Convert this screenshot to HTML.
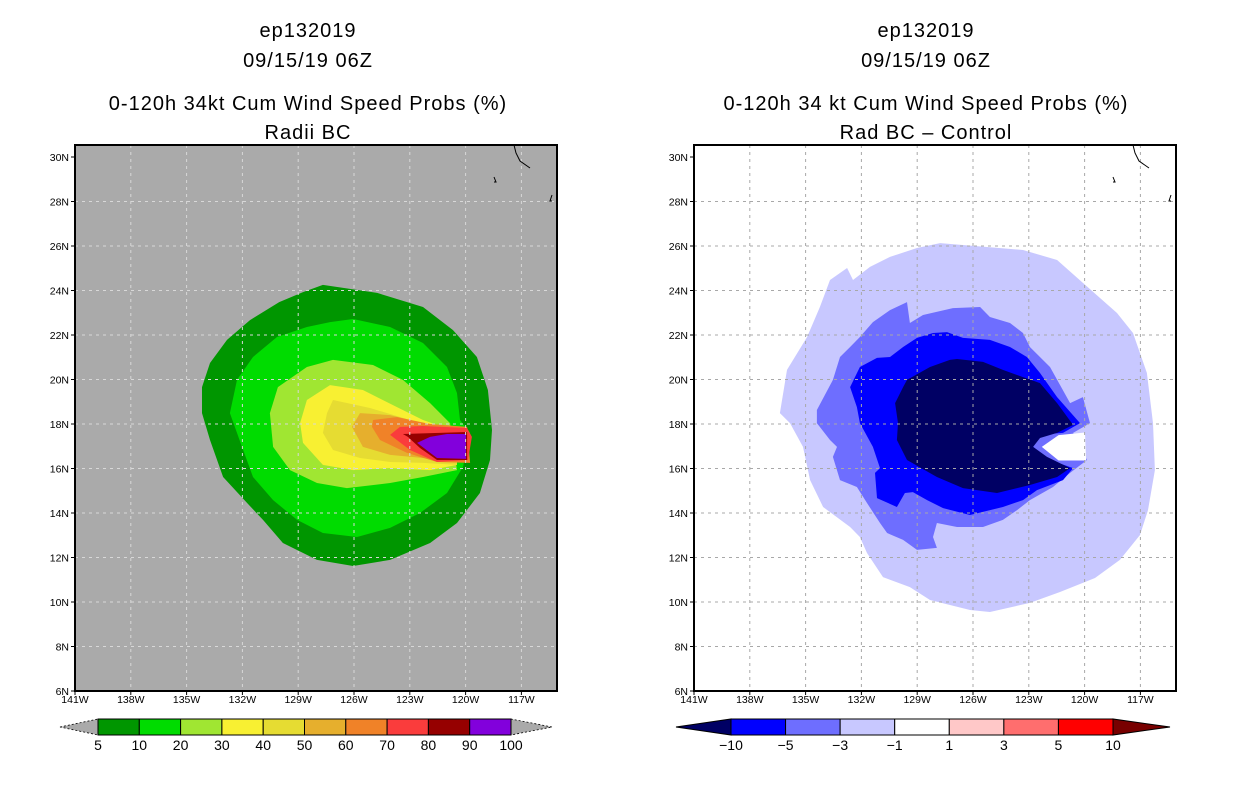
<!DOCTYPE html>
<html><head><meta charset="utf-8"><style>
html,body{margin:0;padding:0;background:#fff;width:1236px;height:800px;overflow:hidden}
svg{display:block}
text{font-family:"Liberation Sans",sans-serif;fill:#000}
.t{font-size:20px;letter-spacing:1px}
.tk{font-size:10.5px}
.cb{font-size:14px}
</style></head><body>
<svg id="chart" width="1236" height="800" viewBox="0 0 1236 800" xmlns="http://www.w3.org/2000/svg">
<g>
<text class="t" x="308" y="37" text-anchor="middle">ep132019</text>
<text class="t" x="308" y="67" text-anchor="middle">09/15/19 06Z</text>
<text class="t" x="308" y="110" text-anchor="middle">0-120h 34kt Cum Wind Speed Probs (%)</text>
<text class="t" x="308" y="139" text-anchor="middle">Radii BC</text>
</g>
<g>
<text class="t" x="926" y="37" text-anchor="middle">ep132019</text>
<text class="t" x="926" y="67" text-anchor="middle">09/15/19 06Z</text>
<text class="t" x="926" y="110" text-anchor="middle">0-120h 34 kt Cum Wind Speed Probs (%)</text>
<text class="t" x="926" y="139" text-anchor="middle">Rad BC – Control</text>
</g>
<g id="left"></g>
<g id="right"></g>
<g id="cbl"></g>
<g id="cbr"></g>
</svg>
<script>
// axis tick data
const latTicks = [6,8,10,12,14,16,18,20,22,24,26,28,30];
const lonTicks = [141,138,135,132,129,126,123,120,117];
// left colorbar data
const leftLevels = ["5","10","20","30","40","50","60","70","80","90","100"];
const leftColors = ["#009600","#00dc00","#a0e632","#f8f032","#e6dc32","#e6af2d","#f08228","#fa3c3c","#960000","#8200dc"];
// right colorbar data
const rightLevels = ["-10","-5","-3","-1","1","3","5","10"];
const rightColors = ["#000064","#0000ff","#6e6eff","#c8c8ff","#ffffff","#ffc8c8","#ff6e6e","#ff0000","#780000"];
// left contours [lonW, latN]
const p05 = [[127.67,24.25],[124.76,23.89],[122.29,23.26],[120.68,22.22],[119.39,21.01],[118.8,19.53],[118.58,17.73],[118.69,16.38],[119.23,14.9],[120.46,13.55],[121.91,12.65],[124.06,11.89],[126.05,11.62],[127.99,11.89],[129.82,12.65],[130.89,13.69],[131.75,14.45],[133.04,15.62],[133.74,17.28],[134.17,18.49],[134.17,19.66],[133.74,20.74],[132.83,21.78],[131.59,22.67],[130.02,23.48],[128.74,23.93]];
const p10 = [[126.05,22.72],[124.06,22.36],[122.29,21.64],[121.0,20.56],[120.46,19.39],[120.3,18.18],[119.76,17.6],[120.14,16.07],[121.0,14.9],[122.45,14.0],[124.06,13.33],[125.84,12.92],[127.67,13.1],[129.06,13.69],[130.35,14.58],[131.43,15.62],[132.02,16.97],[132.67,18.49],[132.29,19.98],[131.43,21.01],[130.14,21.91],[128.53,22.36],[127.29,22.58]];
const p20 = [[127.13,20.88],[124.98,20.65],[123.37,19.98],[121.91,18.94],[120.84,18.04],[120.46,15.93],[122.29,15.62],[124.06,15.35],[126.38,15.12],[127.99,15.35],[129.44,15.93],[130.35,16.97],[130.52,18.49],[130.09,19.66],[128.53,20.56]];
const p30 = [[127.29,19.75],[125.52,19.53],[123.69,18.76],[122.29,18.18],[121.22,17.87],[120.46,17.28],[120.46,16.16],[121.91,15.93],[124.06,16.02],[126.05,15.93],[127.67,16.16],[128.74,17.15],[128.9,18.04],[128.53,19.08]];
const p40 = [[127.13,19.08],[125.14,18.72],[122.99,18.18],[121.54,17.73],[120.46,17.42],[120.46,16.16],[122.29,16.25],[124.06,16.29],[125.68,16.47],[127.13,16.83],[127.67,17.6],[127.45,18.49]];
const p50 = [[125.68,18.49],[124.06,18.4],[122.29,18.04],[120.14,17.82],[120.14,16.29],[122.29,16.47],[124.06,16.61],[125.52,16.97],[126.11,17.87]];
const p60 = [[124.98,18.18],[123.69,18.31],[121.91,18.0],[119.92,17.87],[119.76,16.25],[121.54,16.29],[123.15,16.7],[124.6,17.28],[125.03,17.87]];
const p70 = [[123.53,17.87],[122.29,17.91],[119.92,17.82],[119.66,17.42],[119.87,16.38],[121.54,16.29],[122.99,16.83],[124.06,17.51]];
const p80 = [[123.37,17.55],[119.92,17.64],[119.92,16.38],[121.54,16.38],[122.45,16.92],[123.1,17.42]];
const p90 = [[122.61,17.15],[121.91,17.42],[121.0,17.55],[119.98,17.55],[119.98,16.43],[121.54,16.47]];
// right difference contours [lonW, latN]
const d1 = [[127.77,26.13],[123.31,25.82],[121.48,25.37],[120.09,24.34],[118.26,22.99],[117.4,22.09],[116.65,20.29],[116.32,18.04],[116.22,15.93],[116.59,14.13],[117.02,13.01],[118.1,11.89],[119.44,11.08],[121.32,10.45],[122.94,9.96],[125.09,9.55],[126.16,9.64],[128.31,10.09],[129.39,10.67],[130.84,11.12],[131.7,12.2],[132.08,12.92],[132.61,13.37],[134.06,14.27],[134.76,15.48],[135.14,16.97],[135.84,18.04],[136.38,18.49],[136.0,20.43],[134.92,21.91],[134.23,23.26],[133.69,24.47],[132.77,25.01],[132.45,24.47],[131.54,25.06],[130.46,25.51],[129.01,25.91]];
const dHole = [[122.3,16.97],[121.4,17.5],[119.98,17.62],[119.92,16.36],[121.4,16.36]];
const d3 = [[129.55,23.48],[129.39,22.54],[128.69,22.9],[127.08,23.21],[125.62,23.26],[125.09,22.81],[124.01,22.54],[123.31,22.09],[122.94,21.46],[121.86,20.56],[120.78,18.94],[120.09,19.21],[119.71,18.04],[120.62,17.6],[119.87,16.38],[120.78,15.8],[121.7,15.17],[122.94,14.58],[123.63,14.13],[124.39,13.69],[125.46,13.37],[126.86,13.37],[127.94,13.55],[128.15,12.92],[127.94,12.43],[129.01,12.34],[129.76,12.79],[130.62,13.1],[131.0,13.55],[131.7,14.45],[132.24,15.17],[133.15,15.48],[133.53,16.52],[133.31,16.97],[133.69,17.28],[134.39,18.04],[134.39,18.63],[133.53,19.98],[133.15,21.01],[132.61,21.46],[132.08,21.91],[131.38,22.58],[130.46,23.12]];
const d5 = [[127.4,22.13],[126.54,21.87],[125.09,21.78],[124.01,21.46],[123.1,21.01],[122.4,20.29],[121.48,19.21],[120.25,18.04],[121.16,17.6],[122.56,17.51],[122.77,16.97],[121.86,16.38],[120.62,16.02],[121.16,15.48],[122.56,15.03],[123.31,14.58],[124.39,14.27],[126.16,13.91],[127.61,14.22],[128.47,14.58],[129.23,14.94],[129.66,14.9],[130.09,14.27],[131.16,14.67],[131.27,15.8],[131.0,16.02],[131.38,16.97],[132.08,18.04],[132.24,18.76],[132.61,19.66],[132.08,20.56],[131.16,20.97],[130.46,21.01],[129.76,21.46],[129.01,21.87],[128.15,22.09]];
const d10 = [[126.86,20.92],[125.46,20.79],[124.39,20.43],[123.31,20.11],[122.4,19.84],[121.48,18.94],[120.62,17.96],[121.48,17.6],[122.4,17.37],[122.77,16.97],[122.02,16.52],[120.78,16.02],[121.48,15.62],[122.94,15.26],[124.71,14.9],[126.54,15.12],[127.94,15.62],[129.55,16.38],[130.09,17.28],[130.03,18.04],[130.19,18.94],[129.76,19.66],[129.55,19.98],[128.31,20.56],[127.24,20.88]];
const leftPolys = [p05,p10,p20,p30,p40,p50,p60,p70,p80,p90];
const rightPolys = [d1,d3,dHole,d5,d10];
const rightPolyColors = ["#c8c8ff","#6e6eff","#ffffff","#0000ff","#000064"];
const rightPolyNames = ["contour-minus1","contour-minus3","contour-hole","contour-minus5","contour-minus10"];

const NS="http://www.w3.org/2000/svg";
const TOP=145, BOT=691, W=482;
function mk(tag,parent,attrs){const e=document.createElementNS(NS,tag);for(const k in attrs)e.setAttribute(k,attrs[k]);parent.appendChild(e);return e;}
function xs(x0){return lon=>x0+(141-lon)*18.6;}
function ys(lat){return BOT-(lat-6)*22.25;}
function pts(poly,X){return poly.map(p=>X(p[0]).toFixed(1)+","+ys(p[1]).toFixed(1)).join(" ");}

function panel(g,x0,bg,polys,colors,names,gridCol){
  const X=xs(x0);
  const r=mk('rect',g,{x:x0,y:TOP,width:W,height:BOT-TOP,fill:bg});
  
  
  polys.forEach((p,i)=>{
    const e=mk('polygon',g,{points:pts(p,X),fill:colors[i]});
    
    
  });
  latTicks.forEach(lat=>{
    const y=ys(lat);
    if(lat>6&&lat<30){const l=mk('line',g,{x1:x0,x2:x0+W,y1:y,y2:y,stroke:gridCol,'stroke-width':1,'stroke-dasharray':'3,4'});
      
      }
    mk('line',g,{x1:x0-4,x2:x0,y1:y,y2:y,stroke:'#000','stroke-width':1});
    const t=mk('text',g,{x:x0-6,y:y+4,'text-anchor':'end',class:'tk'});t.textContent=lat+"N";
    
    
  });
  lonTicks.forEach(lon=>{
    const x=X(lon);
    if(lon<141){const l=mk('line',g,{x1:x,x2:x,y1:TOP,y2:BOT,stroke:gridCol,'stroke-width':1,'stroke-dasharray':'3,4'});
      
      }
    mk('line',g,{x1:x,x2:x,y1:BOT,y2:BOT+4,stroke:'#000','stroke-width':1});
    const t=mk('text',g,{x:x,y:BOT+12,'text-anchor':'middle',class:'tk'});t.textContent=lon+"W";
    
    
  });
  mk('path',g,{d:`M${x0+439},${TOP} l2,8 l4,8 l10,7`,fill:'none',stroke:'#000','stroke-width':1});
  mk('path',g,{d:`M${x0+419},${TOP+32} l2,5 l-2,0`,fill:'none',stroke:'#000','stroke-width':1});
  mk('path',g,{d:`M${x0+477},${TOP+50} l-2,6 l2,0`,fill:'none',stroke:'#000','stroke-width':1});
  const f=mk('rect',g,{x:x0,y:TOP,width:W,height:BOT-TOP,fill:'none',stroke:'#000','stroke-width':2});
  
  
}
panel(document.getElementById('left'),75,'#aaaaaa',leftPolys,leftColors,
  ["contour-5","contour-10","contour-20","contour-30","contour-40","contour-50","contour-60","contour-70","contour-80","contour-90"],'#d8d8d8');
panel(document.getElementById('right'),694,'#ffffff',rightPolys,rightPolyColors,rightPolyNames,'#a8a8a8');

(function(){
  const g=document.getElementById('cbl');
  const x1=98,x2=511,y1=719,y2=735,n=leftColors.length,bw=(x2-x1)/n;
  mk('polygon',g,{points:`60,727 ${x1},${y1} ${x1},${y2}`,fill:'#aaaaaa',stroke:'#000','stroke-width':0.8,'stroke-dasharray':'2,2'});
  mk('polygon',g,{points:`552,727 ${x2},${y1} ${x2},${y2}`,fill:'#aaaaaa',stroke:'#000','stroke-width':0.8,'stroke-dasharray':'2,2'});
  leftColors.forEach((c,i)=>{
    const r=mk('rect',g,{x:x1+i*bw,y:y1,width:bw,height:y2-y1,fill:c,stroke:'#000','stroke-width':1});
    
    
  });
  leftLevels.forEach((l,i)=>{
    const t=mk('text',g,{x:x1+i*bw,y:750,'text-anchor':'middle',class:'cb'});t.textContent=l;
    
    
  });
})();
(function(){
  const g=document.getElementById('cbr');
  const xl=676,xr=1170,x1=731,x2=1113,y1=719,y2=735,nb=rightColors.length-2,bw=(x2-x1)/nb;
  mk('polygon',g,{points:`${xl},727 ${x1},${y1} ${x1},${y2}`,fill:rightColors[0],stroke:'#000','stroke-width':1});
  mk('polygon',g,{points:`${xr},727 ${x2},${y1} ${x2},${y2}`,fill:rightColors[rightColors.length-1],stroke:'#000','stroke-width':1});
  for(let i=0;i<nb;i++){
    const r=mk('rect',g,{x:x1+i*bw,y:y1,width:bw,height:y2-y1,fill:rightColors[i+1],stroke:'#000','stroke-width':1});
    
    
  }
  rightLevels.forEach((l,i)=>{
    const t=mk('text',g,{x:x1+i*bw,y:750,'text-anchor':'middle',class:'cb'});t.textContent=l.replace('-','−');
    
    
  });
})();
</script>
</body></html>
